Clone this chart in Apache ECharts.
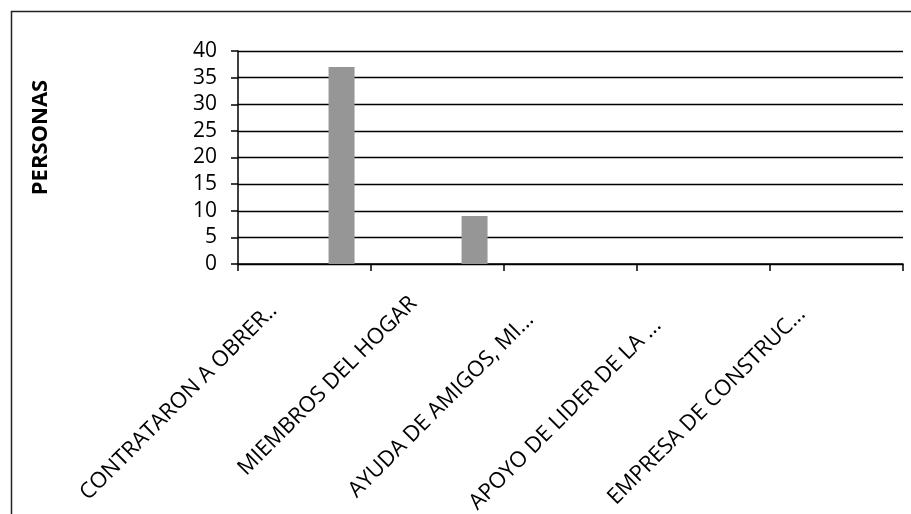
<!DOCTYPE html>
<html>
<head>
<meta charset="utf-8">
<script src="https://cdn.jsdelivr.net/npm/echarts@6/dist/echarts.min.js"></script>
<style>
  html, body { margin: 0; padding: 0; background: #fff; }
  #chart { width: 911px; height: 514px; }
</style>
</head>
<body>
<div id="chart"></div>
<script>
// Categories on the horizontal axis (truncated as shown on the chart)
const categories = [
  'CONTRATARON A OBRER..',
  'MIEMBROS DEL HOGAR',
  'AYUDA DE AMIGOS, MI...',
  'APOYO DE LIDER DE LA ...',
  'EMPRESA DE CONSTRUC...'
];

// Number of people per category
const personas = [37, 9, 0, 0, 0];

// Empty companion series that occupy the first slots of each category group
const emptyA = [null, null, null, null, null];
const emptyB = [null, null, null, null, null];
const emptyC = [null, null, null, null, null];

// Y axis range
const yMin = 0;
const yMax = 40;
const yStep = 5;

// Per-label shift along the rotated text direction
const labelShift = [44, 34, 57, 65, 49];

const FONT = 'Open Sans';

const chart = echarts.init(document.getElementById('chart'), null, { renderer: 'canvas' });

const barStyle = { color: '#969696' };

function makeBar(name, data) {
  return {
    name: name,
    type: 'bar',
    data: data,
    barWidth: 26,
    barGap: '-5%',
    itemStyle: barStyle,
    silent: true
  };
}

chart.setOption({
  animation: false,
  backgroundColor: '#fff',
  graphic: [{
    type: 'rect',
    left: 9,
    top: 9,
    shape: { width: 1000, height: 700 },
    style: { fill: 'none', stroke: '#222', lineWidth: 1.5 },
    silent: true
  }],
  grid: {
    left: 238, right: 8, top: 51, bottom: 250,
    containLabel: false,
    outerBoundsMode: 'none'
  },
  xAxis: {
    type: 'category',
    data: categories.map((c, i) => ({
      value: c,
      textStyle: { padding: [0, labelShift[i], 0, 0] }
    })),
    boundaryGap: true,
    axisLine: { show: true, lineStyle: { color: '#000', width: 1.5 } },
    axisTick: { show: true, alignWithLabel: false, length: 7, lineStyle: { color: '#000', width: 1.5 } },
    axisLabel: {
      interval: 0,
      rotate: 45,
      margin: 12,
      hideOverlap: false,
      fontFamily: FONT,
      fontSize: 22,
      color: '#000'
    },
    splitLine: { show: false }
  },
  yAxis: {
    type: 'value',
    min: yMin,
    max: yMax,
    interval: yStep,
    name: 'PERSONAS',
    nameLocation: 'middle',
    nameGap: 186,
    nameTextStyle: {
      fontFamily: FONT,
      fontSize: 22,
      fontWeight: 'bold',
      color: '#000',
      padding: [0, 0, 0, 40]
    },
    axisLine: { show: true, lineStyle: { color: '#000', width: 1.5 } },
    axisTick: { show: true, length: 7, lineStyle: { color: '#000', width: 1.5 } },
    axisLabel: {
      margin: 21,
      fontFamily: FONT,
      fontSize: 21,
      color: '#000'
    },
    splitLine: { show: true, lineStyle: { color: '#000', width: 1.3 } }
  },
  series: [
    makeBar('A', emptyA),
    makeBar('B', emptyB),
    makeBar('C', emptyC),
    makeBar('Personas', personas)
  ]
});
</script>
</body>
</html>
